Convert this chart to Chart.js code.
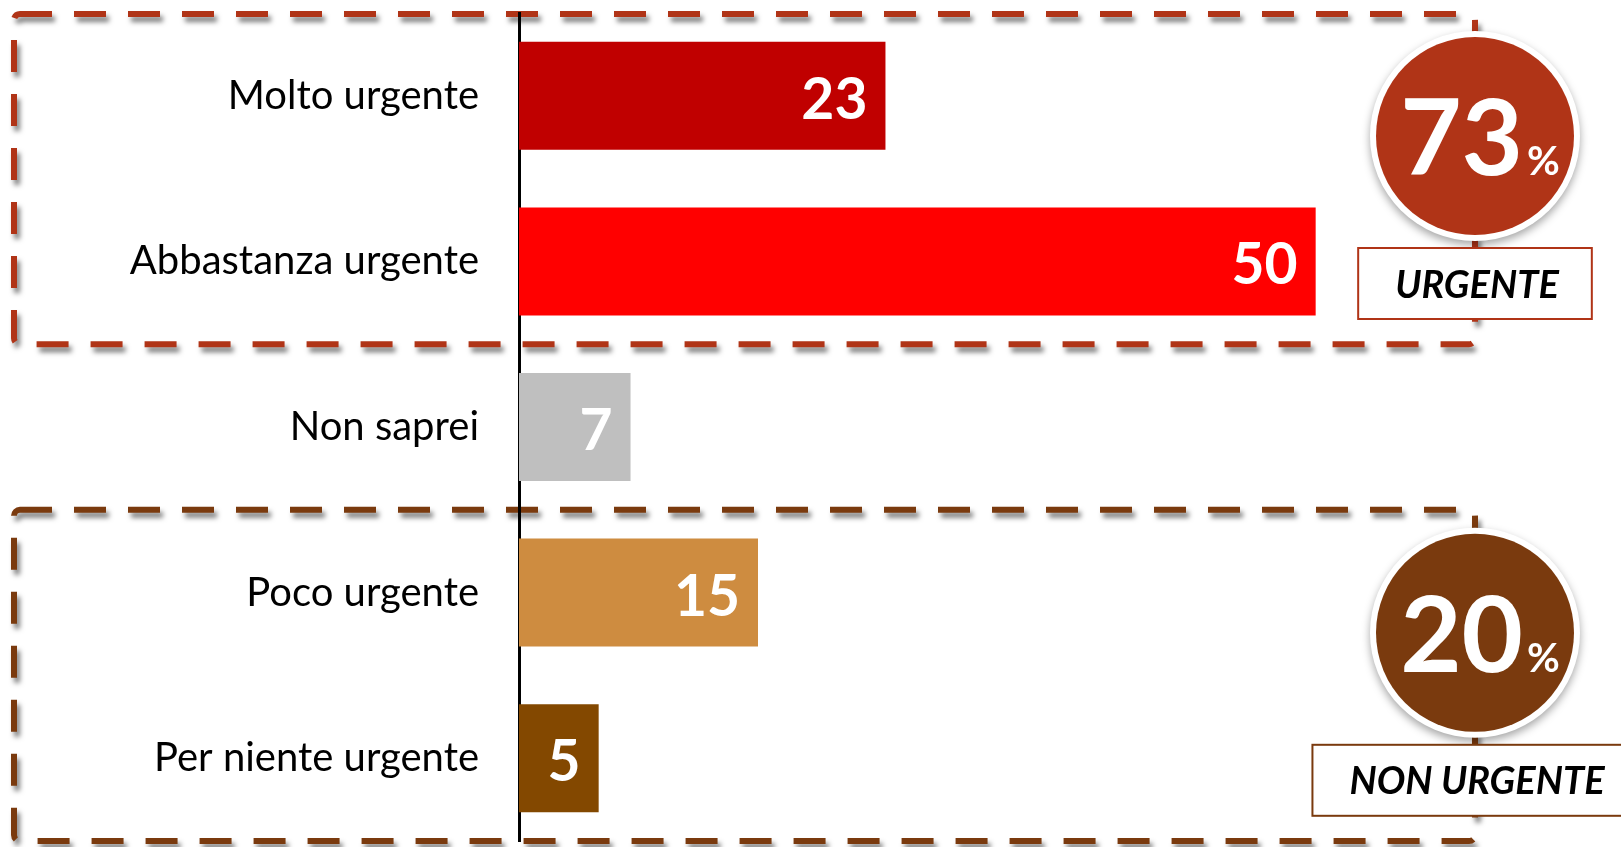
<!DOCTYPE html>
<html>
<head>
<meta charset="utf-8">
<script src="https://cdn.jsdelivr.net/npm/chart.js@4/dist/chart.umd.min.js"></script>
<style>
  html, body { margin: 0; padding: 0; background: #fff; }
  #chart { display: block; }
</style>
</head>
<body>
<canvas id="chart" width="1621" height="847"></canvas>
<script>
var categories = ['Molto urgente', 'Abbastanza urgente', 'Non saprei', 'Poco urgente', 'Per niente urgente'];
var values = [23, 50, 7, 15, 5];
var barColors = ['#C00000', '#FF0000', '#BFBFBF', '#CE8C40', '#834800'];

var groupNames = ['URGENTE', 'NON URGENTE'];
var groupMembers = [[0, 1], [3, 4]];
var groupColors = ['#B03417', '#7A3A0E'];

var FONT = 'Lato, "Open Sans", sans-serif';

// totals shown in the circles
var groupTotals = groupMembers.map(function(m){
    return m.reduce(function(s, i){ return s + values[i]; }, 0);
});

function dashedBox(ctx, x1, y1, x2, y2, color) {
    ctx.save();
    ctx.strokeStyle = color;
    ctx.lineWidth = 6;
    ctx.setLineDash([32, 22]);
    ctx.shadowColor = 'rgba(0,0,0,0.5)';
    ctx.shadowBlur = 5;
    ctx.shadowOffsetX = 3;
    ctx.shadowOffsetY = 5;
    ctx.beginPath();
    ctx.roundRect(x1, y1, x2 - x1, y2 - y1, 6);
    ctx.stroke();
    ctx.restore();
}

var groupsPlugin = {
    id: 'groups',
    beforeDraw: function(chart) {
        var ctx = chart.ctx, y = chart.scales.y, area = chart.chartArea;
        groupMembers.forEach(function(m, g){
            var top = y.getPixelForValue(m[0] - 0.5);
            var bot = y.getPixelForValue(m[m.length - 1] + 0.5);
            dashedBox(ctx, 14, Math.max(top, 14), area.right, Math.min(bot, 842), groupColors[g]);
        });
    },
    afterDraw: function(chart) {
        var ctx = chart.ctx, y = chart.scales.y, area = chart.chartArea;
        groupMembers.forEach(function(m, g){
            var cx = area.right;
            var cy = y.getPixelForValue(m[0] - 0.5) + 123;

            // circle with white ring and soft shadow
            ctx.save();
            ctx.shadowColor = 'rgba(0,0,0,0.35)';
            ctx.shadowBlur = 8;
            ctx.shadowOffsetY = 4;
            ctx.beginPath();
            ctx.arc(cx, cy, 105, 0, Math.PI * 2);
            ctx.fillStyle = '#fff';
            ctx.fill();
            ctx.restore();
            ctx.beginPath();
            ctx.arc(cx, cy, 99, 0, Math.PI * 2);
            ctx.fillStyle = groupColors[g];
            ctx.fill();

            var num = String(groupTotals[g]);
            ctx.fillStyle = '#fff';
            ctx.textAlign = 'left';
            ctx.textBaseline = 'alphabetic';
            ctx.font = 'bold 106px ' + FONT;
            var w1 = ctx.measureText(num).width;
            ctx.font = 'bold 40px ' + FONT;
            var w2 = ctx.measureText('%').width;
            var start = cx + 5 - (w1 + 4 + w2) / 2;
            ctx.font = 'bold 106px ' + FONT;
            ctx.fillText(num, start, cy + 39);
            ctx.font = 'bold 40px ' + FONT;
            ctx.fillText('%', start + w1 + 4, cy + 39);

            // label box
            ctx.font = 'italic bold 38px ' + FONT;
            var tw = ctx.measureText(groupNames[g]).width;
            var bw = tw + 70, bh = 71, bt = cy + 112;
            ctx.fillStyle = '#fff';
            ctx.fillRect(cx - bw / 2, bt, bw, bh);
            ctx.strokeStyle = groupColors[g];
            ctx.lineWidth = 2;
            ctx.strokeRect(cx - bw / 2, bt, bw, bh);
            ctx.fillStyle = '#000';
            ctx.textAlign = 'center';
            ctx.fillText(groupNames[g], cx + 2, bt + bh / 2 + 14);
        });
    }
};

var valuesPlugin = {
    id: 'barValues',
    afterDatasetsDraw: function(chart) {
        var ctx = chart.ctx;
        var meta = chart.getDatasetMeta(0);
        ctx.save();
        ctx.fillStyle = '#fff';
        ctx.font = 'bold 57px ' + FONT;
        ctx.textAlign = 'right';
        ctx.textBaseline = 'alphabetic';
        meta.data.forEach(function(bar, i){
            ctx.fillText(values[i], bar.x - 18, bar.y + 23);
        });
        ctx.restore();
    }
};

var chart = new Chart(document.getElementById('chart'), {
    type: 'bar',
    data: {
        labels: categories,
        datasets: [{
            data: values,
            backgroundColor: barColors,
            barPercentage: 0.652,
            categoryPercentage: 1.0
        }]
    },
    options: {
        indexAxis: 'y',
        responsive: false,
        animation: false,
        layout: { padding: { left: 0, right: 146, top: 13, bottom: 6 } },
        plugins: { legend: { display: false }, tooltip: { enabled: false } },
        scales: {
            x: { display: false, min: 0, max: 60 },
            y: {
                grid: { display: false, drawTicks: false },
                border: { display: true, color: '#000', width: 3 },
                ticks: { padding: 40, color: '#000', font: { family: FONT, size: 40 } },
                afterFit: function(scale){
                    scale.width = 519;
                    scale.paddingTop = 0;
                    scale.paddingBottom = 0;
                }
            }
        }
    },
    plugins: [groupsPlugin, valuesPlugin]
});
</script>
</body>
</html>
